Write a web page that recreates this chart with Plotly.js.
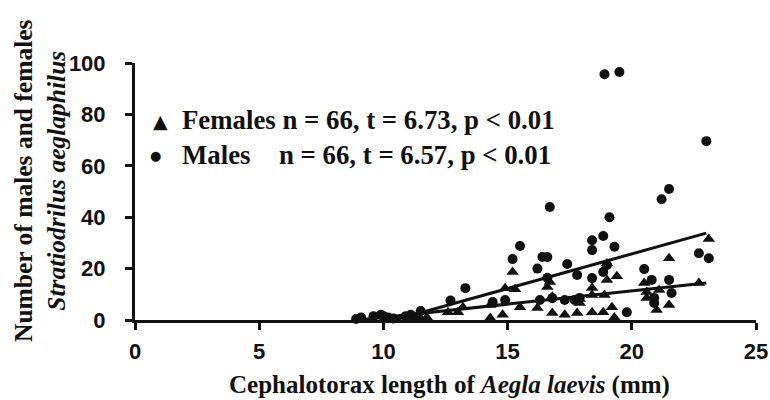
<!DOCTYPE html>
<html>
<head>
<meta charset="utf-8">
<script src="https://cdn.plot.ly/plotly-3.0.1.min.js"></script>
<style>html,body{margin:0;padding:0;background:#fff;}#chart{width:770px;height:400px;}</style>
</head>
<body>
<div id="chart"></div>
<script>
// Males (circles)
const maleX = [8.9, 9.1, 9.6, 9.9, 10.0, 10.2, 10.4, 10.9, 11.1, 11.5,
  12.7, 13.3, 14.4, 14.9, 15.2, 15.5, 16.2, 16.4, 16.6, 16.6, 16.7, 16.3, 16.8, 17.3, 17.7,
  17.4, 17.8, 17.9, 18.4, 18.4, 18.4, 18.85, 18.85, 19.0, 19.1, 19.3, 18.9, 19.5,
  19.8, 20.5, 20.8, 20.9, 20.9, 21.2, 21.5, 21.5, 21.6, 22.7, 23.1, 23.0];
const maleY = [0.4, 1, 1.5, 2, 1.5, 1, 0.6, 1.5, 2, 3.5,
  7.6, 12.4, 7, 7.8, 23.7, 28.8, 20, 24.5, 24.5, 16.4, 44, 7.8, 8.5, 7.8, 7.8,
  21.8, 17.5, 8.6, 16.3, 27.2, 31, 32.7, 18.7, 21.4, 40, 28.5, 95.6, 96.5,
  3, 19.8, 15.6, 8.6, 6.6, 47, 51, 15.6, 10.5, 26, 24, 69.6];

// Females (triangles)
const femaleX = [11.0, 11.3, 11.5, 11.75, 12.6, 13.0, 13.2, 14.3, 14.3, 14.8, 14.9, 15.2, 15.3, 15.5,
  16.2, 16.6, 16.7, 16.8, 16.8, 17.3, 17.8, 17.9, 17.9, 18.4, 18.4, 18.4, 18.85, 18.9,
  19.0, 19.0, 19.2, 19.3, 19.4, 20.5, 20.6, 20.6, 21.0, 21.1, 21.5, 21.5, 22.7, 23.1];
const femaleY = [0.5, 1, 0.5, 1, 3, 3, 5, 5.8, 0.8, 2, 12.4, 18.7, 12, 5,
  4.7, 12.8, 14.8, 9, 2.7, 2, 2.7, 6.6, 8.2, 12.5, 9.7, 3, 3, 9.7,
  15.6, 22, 5, 1, 17, 14.4, 10.9, 8.6, 3.9, 11.7, 5.8, 24, 14.4, 31.5];

// Fitted regression lines (end points)
const maleFitX = [10.45, 23];
const maleFitY = [0, 33.8];
const femaleFitX = [9.0, 23];
const femaleFitY = [0, 14.4];

const xTicks = [0, 5, 10, 15, 20, 25];
const yTicks = [0, 20, 40, 60, 80, 100];

const traces = [
  {x: maleX, y: maleY, type: 'scatter', mode: 'markers', name: 'Males',
   marker: {symbol: 'circle', size: 10, color: '#111'}, cliponaxis: false, showlegend: false},
  {x: femaleX, y: femaleY, type: 'scatter', mode: 'markers', name: 'Females',
   marker: {symbol: 'triangle-up', size: 11, color: '#111'}, cliponaxis: false, showlegend: false},
  {x: maleFitX, y: maleFitY, type: 'scatter', mode: 'lines',
   line: {color: '#111', width: 3}, showlegend: false},
  {x: femaleFitX, y: femaleFitY, type: 'scatter', mode: 'lines',
   line: {color: '#111', width: 3}, showlegend: false}
];

const L = 135, W = 621, T = 63, H = 257;
function px(p) { return (p - L) / W; }
function py(p) { return (T + H - p) / H; }

const serif = 'Liberation Serif, Times New Roman, serif';
const tickFont = {family: 'Liberation Sans, Arial, sans-serif', size: 22, color: '#111', weight: 'bold'};
const layout = {
  width: 770, height: 400,
  margin: {l: L, r: 770 - L - W, t: T, b: 400 - T - H},
  paper_bgcolor: '#fff', plot_bgcolor: '#fff',
  showlegend: false,
  xaxis: {
    range: [0, 25], tickvals: xTicks, ticktext: xTicks.map(String),
    showgrid: false, zeroline: false, showline: true, linecolor: '#111', linewidth: 3,
    ticks: 'outside', ticklen: 7, tickwidth: 3, tickcolor: '#111',
    ticklabelstandoff: 3, tickfont: tickFont
  },
  yaxis: {
    range: [0, 100], tickvals: yTicks, ticktext: yTicks.map(String),
    showgrid: false, zeroline: false, showline: true, linecolor: '#111', linewidth: 3,
    ticks: 'outside', ticklen: 7, tickwidth: 3, tickcolor: '#111',
    ticklabelstandoff: 15, tickfont: tickFont
  },
  annotations: [
    {xref: 'paper', yref: 'paper', x: px(449), y: py(385), xanchor: 'center', yanchor: 'middle',
     showarrow: false, text: '<b>Cephalotorax length of <i>Aegla laevis</i> (mm)</b>',
     font: {family: serif, size: 25, color: '#111'}},
    {xref: 'paper', yref: 'paper', x: px(40), y: py(180), xanchor: 'center', yanchor: 'middle',
     showarrow: false, textangle: -90,
     text: '<b>Number of males and females</b><br><b><i>Stratiodrilus aeglaphilus</i></b>',
     font: {family: serif, size: 25.5, color: '#111'}},
    {xref: 'paper', yref: 'paper', x: px(160), y: py(121), xanchor: 'center', yanchor: 'middle',
     showarrow: false, text: '▲', font: {family: 'DejaVu Sans', size: 19, color: '#111'}},
    {xref: 'paper', yref: 'paper', x: px(180), y: py(120), xanchor: 'left', yanchor: 'middle',
     showarrow: false, text: '<b>Females n = 66, t = 6.73, p &lt; 0.01</b>',
     font: {family: serif, size: 26.8, color: '#111'}},
    {xref: 'paper', yref: 'paper', x: px(155), y: py(155), xanchor: 'center', yanchor: 'middle',
     showarrow: false, text: '●', font: {family: 'DejaVu Sans', size: 13, color: '#111'}},
    {xref: 'paper', yref: 'paper', x: px(180), y: py(155), xanchor: 'left', yanchor: 'middle',
     showarrow: false, text: '<b>Males</b>',
     font: {family: serif, size: 26.8, color: '#111'}},
    {xref: 'paper', yref: 'paper', x: px(553), y: py(155), xanchor: 'right', yanchor: 'middle',
     showarrow: false, text: '<b>n = 66, t = 6.57, p &lt; 0.01</b>',
     font: {family: serif, size: 26.8, color: '#111'}}
  ]
};

Plotly.newPlot('chart', traces, layout, {displayModeBar: false, staticPlot: true});
</script>
</body>
</html>
